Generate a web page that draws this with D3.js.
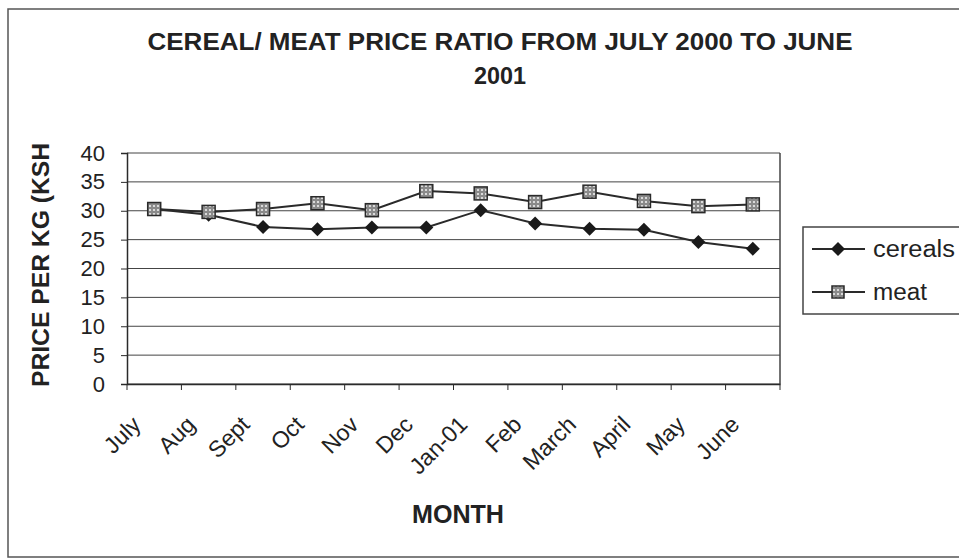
<!DOCTYPE html>
<html><head><meta charset="utf-8">
<script src="https://cdn.jsdelivr.net/npm/d3@7"></script>
<style>body{margin:0;background:#fff}svg{display:block}text{font-family:"Liberation Sans",Arial,sans-serif;fill:#222}</style>
</head><body><svg id="c" width="959" height="559"></svg>
<script>
const months = ["July","Aug","Sept","Oct","Nov","Dec","Jan-01","Feb","March","April","May","June"];
const cereals = [30.3,29.3,27.2,26.8,27.1,27.1,30.1,27.8,26.9,26.7,24.6,23.4];
const meat = [30.3,29.8,30.3,31.3,30.1,33.4,33.0,31.5,33.3,31.7,30.8,31.1];
const yTicks = [0,5,10,15,20,25,30,35,40];
const seriesNames = ["cereals","meat"];

const svg = d3.select("#c");
const ink = "#2a2a2a";
const defs = svg.append("defs");
const pat = defs.append("pattern").attr("id","dots").attr("width",4).attr("height",4).attr("patternUnits","userSpaceOnUse");
pat.append("rect").attr("width",4).attr("height",4).attr("fill","#8a8a8a");
pat.append("circle").attr("cx",2).attr("cy",2).attr("r",1.1).attr("fill","#eee");

// outer frame
svg.append("rect").attr("x",8).attr("y",9).attr("width",970).attr("height",548).attr("fill","none").attr("stroke","#555").attr("stroke-width",1.5);

const L=127,R=780,T=153,B=384;
const x = d3.scaleBand().domain(months).range([L,R]);
const y = d3.scaleLinear().domain([0,40]).range([B,T]);

// gridlines
svg.append("g").selectAll("line").data(yTicks).join("line")
  .attr("x1",L).attr("x2",R).attr("y1",d=>y(d)).attr("y2",d=>y(d))
  .attr("stroke","#444").attr("stroke-width",1);
svg.append("line").attr("x1",R).attr("x2",R).attr("y1",T).attr("y2",B).attr("stroke","#444").attr("stroke-width",1.5);

// y axis
const ya = svg.append("g").attr("transform",`translate(${L},0)`)
  .call(d3.axisLeft(y).tickValues(yTicks).tickSize(6).tickPadding(16));
ya.select(".domain").attr("stroke",ink).attr("stroke-width",1.5);
ya.selectAll(".tick line").attr("stroke",ink);
ya.selectAll("text").attr("font-size",22).attr("fill",ink).style("font-family","Liberation Sans, Arial, sans-serif");

// x axis
const xa = svg.append("g").attr("transform",`translate(0,${B})`)
  .call(d3.axisBottom(x).tickSize(0).tickFormat(""));
xa.select(".domain").attr("stroke",ink).attr("stroke-width",1.5);
const bounds = d3.range(months.length+1).map(i=>L+i*x.step());
svg.append("g").selectAll("line").data(bounds).join("line")
  .attr("x1",d=>d).attr("x2",d=>d).attr("y1",B).attr("y2",B+6).attr("stroke",ink);
svg.append("g").selectAll("text").data(months).join("text")
  .attr("transform",d=>`translate(${x(d)+x.bandwidth()/2-12},${B+42}) rotate(-45)`)
  .attr("text-anchor","end").attr("font-size",23).text(d=>d);

// lines
const line = d3.line().x((d,i)=>x(months[i])+x.bandwidth()/2).y(d=>y(d));
svg.append("path").datum(meat).attr("d",line).attr("fill","none").attr("stroke",ink).attr("stroke-width",2);
svg.append("path").datum(cereals).attr("d",line).attr("fill","none").attr("stroke",ink).attr("stroke-width",2);

const diamond = (cx,cy,s)=>`M${cx},${cy-s}L${cx+s},${cy}L${cx},${cy+s}L${cx-s},${cy}Z`;
svg.append("g").selectAll("path").data(cereals).join("path")
  .attr("d",(d,i)=>diamond(x(months[i])+x.bandwidth()/2,y(d),7)).attr("fill","#1a1a1a");
svg.append("g").selectAll("rect").data(meat).join("rect")
  .attr("x",(d,i)=>x(months[i])+x.bandwidth()/2-6.5).attr("y",d=>y(d)-6.5)
  .attr("width",13).attr("height",13).attr("fill","url(#dots)").attr("stroke",ink).attr("stroke-width",1.5);

// titles
svg.append("text").attr("x",500).attr("y",50).attr("text-anchor","middle").attr("font-size",24).attr("font-weight","bold")
  .attr("textLength",705).attr("lengthAdjust","spacingAndGlyphs").text("CEREAL/ MEAT PRICE RATIO FROM JULY 2000 TO JUNE");
svg.append("text").attr("x",500).attr("y",84).attr("text-anchor","middle").attr("font-size",24).attr("font-weight","bold")
  .attr("textLength",52).attr("lengthAdjust","spacingAndGlyphs").text("2001");
svg.append("text").attr("transform","translate(49,265) rotate(-90)").attr("text-anchor","middle").attr("font-size",23).attr("font-weight","bold")
  .attr("textLength",244).attr("lengthAdjust","spacingAndGlyphs").text("PRICE PER KG (KSH");
svg.append("text").attr("x",458).attr("y",523).attr("text-anchor","middle").attr("font-size",25).attr("font-weight","bold")
  .attr("textLength",92).attr("lengthAdjust","spacingAndGlyphs").text("MONTH");

// legend
const lg = svg.append("g");
lg.append("rect").attr("x",803).attr("y",227).attr("width",170).attr("height",87).attr("fill","#fff").attr("stroke","#444").attr("stroke-width",1.5);
const ly = [249,292];
const lw = [82,54];
seriesNames.forEach((n,i)=>{
  lg.append("line").attr("x1",812).attr("x2",865).attr("y1",ly[i]).attr("y2",ly[i]).attr("stroke",ink).attr("stroke-width",2);
  if(i===0) lg.append("path").attr("d",diamond(838,ly[i],7)).attr("fill","#1a1a1a");
  else lg.append("rect").attr("x",832).attr("y",ly[i]-6).attr("width",12).attr("height",12).attr("fill","url(#dots)").attr("stroke",ink).attr("stroke-width",1.5);
  lg.append("text").attr("x",873).attr("y",ly[i]+8).attr("font-size",23)
    .attr("textLength",lw[i]).attr("lengthAdjust","spacingAndGlyphs").text(n);
});
</script></body></html>
